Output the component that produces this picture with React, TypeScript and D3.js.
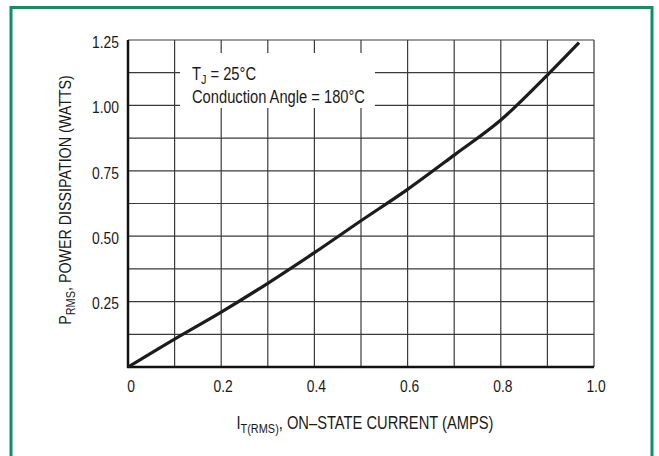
import React, { useEffect, useRef } from 'react';
import * as d3 from 'd3';

// current (amps) vs power dissipation (watts)
const current = [0, 0.1, 0.2, 0.3, 0.4, 0.5, 0.6, 0.7, 0.8, 0.9, 0.968];
const power = [0, 0.107, 0.21, 0.32, 0.437, 0.559, 0.679, 0.81, 0.944, 1.116, 1.24];

const xTicks = [0, 0.2, 0.4, 0.6, 0.8, 1.0];
const yTicks = [0.25, 0.5, 0.75, 1.0, 1.25];
const xGrid = d3.range(0, 11).map(i => i / 10);
const yGrid = d3.range(0, 11).map(i => i * 0.125);

const FONT = '"Liberation Sans", Arial, sans-serif';
const SX = 0.84; // squeeze to look like a condensed face

export default function App() {
  const svgRef = useRef<SVGSVGElement>(null);

  useEffect(() => {
    if (!svgRef.current) return;
    const svg = d3.select(svgRef.current);
    svg.selectAll('*').remove();

    const W = 659;
    const H = 456;
    const left = 128, right = 594, top = 40, bottom = 367;

    const x = d3.scaleLinear().domain([0, 1]).range([left, right]);
    const y = d3.scaleLinear().domain([0, 1.25]).range([bottom, top]);

    svg.append('rect').attr('width', W).attr('height', H).attr('fill', '#fff');

    // green frame
    svg.append('rect')
      .attr('x', 11).attr('y', 7.5)
      .attr('width', 641).attr('height', 470)
      .attr('fill', 'none')
      .attr('stroke', '#0e9160')
      .attr('stroke-width', 3);

    // grid
    const grid = svg.append('g').attr('stroke', '#3a3a3a').attr('stroke-width', 1.2);
    xGrid.forEach(v => {
      grid.append('line')
        .attr('x1', x(v)).attr('x2', x(v))
        .attr('y1', top).attr('y2', bottom);
    });
    yGrid.forEach(v => {
      grid.append('line')
        .attr('x1', left).attr('x2', right)
        .attr('y1', y(v)).attr('y2', y(v));
    });

    // white box behind the note
    svg.append('rect')
      .attr('x', 180).attr('y', 53)
      .attr('width', 195).attr('height', 55)
      .attr('fill', '#fff');

    // axes (heavy)
    svg.append('line')
      .attr('x1', left).attr('x2', left)
      .attr('y1', top).attr('y2', bottom + 1)
      .attr('stroke', '#111').attr('stroke-width', 2.5);
    svg.append('line')
      .attr('x1', left - 1).attr('x2', right)
      .attr('y1', bottom).attr('y2', bottom)
      .attr('stroke', '#111').attr('stroke-width', 2.5);

    // curve
    const pts: [number, number][] = current.map((c, i) => [c, power[i]]);
    const line = d3.line<[number, number]>()
      .x(d => x(d[0]))
      .y(d => y(d[1]))
      .curve(d3.curveMonotoneX);
    svg.append('path')
      .attr('d', line(pts))
      .attr('fill', 'none')
      .attr('stroke', '#1c1c1c')
      .attr('stroke-width', 3.2);

    const txt = svg.append('g').attr('font-family', FONT).attr('fill', '#1a1a1a');

    const label = (tx: number, ty: number, anchor: string, size: number, rot = 0) =>
      txt.append('g')
        .attr('transform', `translate(${tx},${ty})${rot ? ` rotate(${rot})` : ''} scale(${SX},1)`)
        .append('text')
        .attr('text-anchor', anchor)
        .attr('font-size', size);

    // tick labels
    yTicks.forEach(v => {
      label(119, y(v) + 2, 'end', 16.5).attr('dy', '0.35em').text(v.toFixed(2));
    });
    xTicks.forEach(v => {
      label(x(v) + (v === 0 ? 3 : 2), 392, 'middle', 16.5).text(v === 0 ? '0' : v.toFixed(1));
    });

    // x axis title
    const xt = label(365, 429, 'middle', 17.5);
    xt.append('tspan').text('I');
    xt.append('tspan').attr('font-size', 13).attr('dy', 4).text('T(RMS)');
    xt.append('tspan').attr('dy', -4).text(', ON\u2013STATE CURRENT (AMPS)');

    // y axis title
    const yt = label(71, 200, 'middle', 17, -90);
    yt.append('tspan').text('P');
    yt.append('tspan').attr('font-size', 13).attr('dy', 4).text('RMS');
    yt.append('tspan').attr('dy', -4).text(', POWER DISSIPATION (WATTS)');

    // note
    const n1 = label(192, 80, 'start', 17.5);
    n1.append('tspan').text('T');
    n1.append('tspan').attr('font-size', 13).attr('dy', 4).text('J');
    n1.append('tspan').attr('dy', -4).text(' = 25°C');
    label(192, 103, 'start', 17.5).text('Conduction Angle = 180°C');
  }, []);

  return (
    <svg
      ref={svgRef}
      width={659}
      height={456}
      style={{ position: 'absolute', left: 0, top: 0, display: 'block' }}
    />
  );
}
